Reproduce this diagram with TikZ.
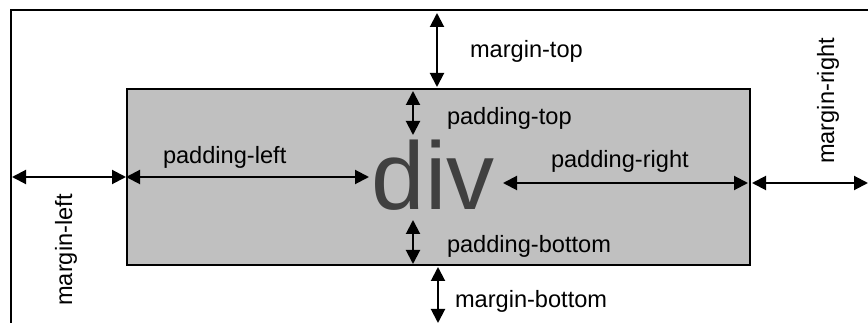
\documentclass[tikz,border=0pt]{standalone}
\usepackage{fontspec}
\setmainfont{Liberation Sans}
\usetikzlibrary{arrows.meta,positioning}
\definecolor{boxgray}{HTML}{C0C0C0}
\definecolor{divgray}{HTML}{404040}

\begin{document}
\begin{tikzpicture}[x=1pt,y=-1pt,>={Triangle[length=14pt,width=14pt]},line width=2pt,
    dim/.style={<->,line width=2pt},
    lbl/.style={inner sep=0pt,font=\fontsize{23.6}{28}\selectfont,anchor=base west},
    side/.style={inner sep=0pt,font=\fontsize{23.6}{28}\selectfont,anchor=base,rotate=90}]
    \useasboundingbox (0,0) rectangle (868,323);
    \clip (0,0) rectangle (868,323);
    \draw (11,10.5) rectangle (900,360);

    \node[draw,fill=boxgray,minimum width=623pt,minimum height=176pt,inner sep=0pt] (box) at (438.5,177) {};
    \node[inner sep=0pt,anchor=base,text=divgray,font=\fontsize{96}{100}\selectfont] (div) at (433,210) {div};

    % free ends of the arrows
    \coordinate (ml) at (12,177);
    \coordinate (pl) at (369,177);
    \coordinate (pr) at (503,183);
    \coordinate (prb) at (748,183);
    \coordinate (mrb) at (752,183);
    \coordinate (mr) at (868,183);
    \coordinate (mt) at (437,13);
    \coordinate (mtb) at (437,87);
    \coordinate (pt) at (413,91);
    \coordinate (ptb) at (413,135);
    \coordinate (pb) at (413,220);
    \coordinate (pbb) at (413,264);
    \coordinate (mb) at (438,267);
    \coordinate (mbb) at (438,323);

    \path
    (ml) edge[dim] (box.west)
    (box.west) edge[dim] (pl)
    (pr) edge[dim] (prb)
    (mrb) edge[dim] (mr)
    (mt) edge[dim] (mtb)
    (pt) edge[dim] (ptb)
    (pb) edge[dim] (pbb)
    (mb) edge[dim] (mbb);

    \node[lbl] (mtop) at (469,58) {margin-top};
    \node[lbl] (ptop) at (446,125) {padding-top};
    \node[lbl] (pleft) at (162,164) {padding-left};
    \node[lbl] (pright) at (550,168) {padding-right};
    \node[lbl] (pbottom) at (446,253) {padding-bottom};
    \node[lbl] (mbottom) at (454,308) {margin-bottom};
    \node[side] (mleft) at (72,250) {margin-left};
    \node[side] (mright) at (834,101) {margin-right};
\end{tikzpicture}
\end{document}
